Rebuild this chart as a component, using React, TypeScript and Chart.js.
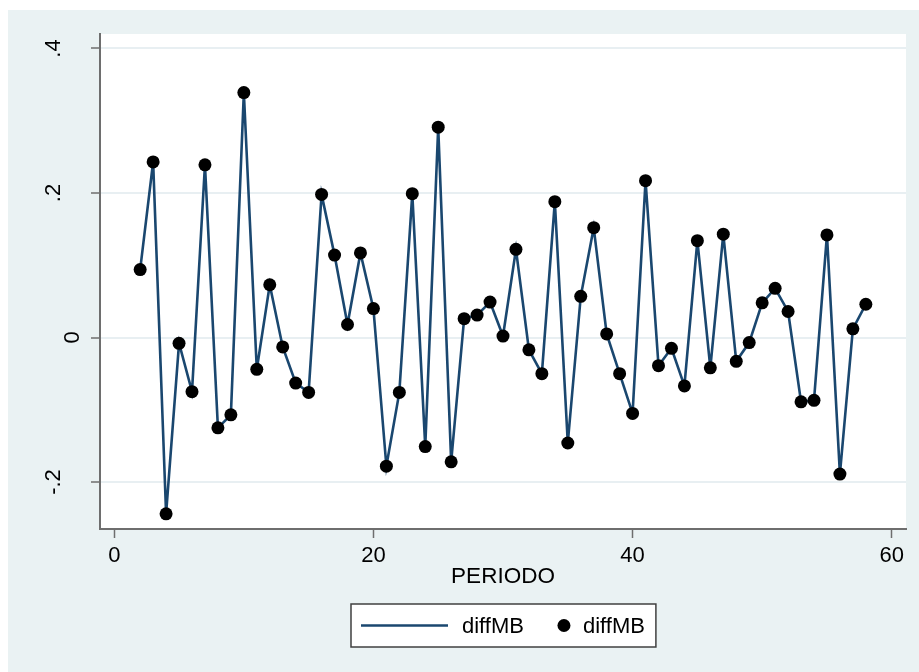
import React, { useEffect, useRef } from "react";
import { Chart, registerables } from "chart.js";

Chart.register(...registerables);

const periods = [
  2, 3, 4, 5, 6, 7, 8, 9, 10, 11, 12, 13, 14, 15, 16, 17, 18, 19, 20,
  21, 22, 23, 24, 25, 26, 27, 28, 29, 30, 31, 32, 33, 34, 35, 36, 37, 38, 39, 40,
  41, 42, 43, 44, 45, 46, 47, 48, 49, 50, 51, 52, 53, 54, 55, 56, 57, 58,
];
const diffMB = [
  0.094, 0.243, -0.244, -0.008, -0.075, 0.239, -0.125, -0.107, 0.339, -0.044,
  0.073, -0.013, -0.063, -0.076, 0.198, 0.114, 0.018, 0.117, 0.040,
  -0.178, -0.076, 0.199, -0.151, 0.291, -0.172, 0.026, 0.031, 0.049, 0.002,
  0.122, -0.017, -0.050, 0.188, -0.146, 0.057, 0.152, 0.005, -0.050, -0.105,
  0.217, -0.039, -0.015, -0.067, 0.134, -0.042, 0.143, -0.033, -0.007, 0.048,
  0.068, 0.036, -0.089, -0.087, 0.142, -0.189, 0.012, 0.046,
];
const seriesLabel = "diffMB";
const xTitle = "PERIODO";
const xRange = [-1.1, 61.1];
const yRange = [-0.265, 0.42];
const xStep = 20;
const yStep = 0.2;

const BG = "#EAF2F3";
const GRID = "#E8EFF2";
const AXIS = "#6E6E6E";
const LINE = "#1A476F";
const FONT = "'Liberation Sans', Arial, Helvetica, sans-serif";

const fmtY = (v: number) => {
  const r = Math.round(v * 10) / 10;
  if (r === 0) return "0";
  const s = String(r);
  return s.replace(/^(-?)0\./, "$1.");
};

const bgPlugin = {
  id: "bgPlugin",
  beforeDraw(chart: any) {
    const { ctx, chartArea: ca, width, height } = chart;
    ctx.save();
    ctx.fillStyle = BG;
    ctx.fillRect(0, 0, width, height);
    ctx.fillStyle = "#FFFFFF";
    ctx.fillRect(ca.left, ca.top, ca.right - ca.left, ca.bottom - ca.top);
    ctx.restore();
  },
};

const yLabelPlugin = {
  id: "yLabelPlugin",
  afterDraw(chart: any) {
    const { ctx } = chart;
    const ys = chart.scales.y;
    ctx.save();
    ctx.font = `22px ${FONT}`;
    ctx.fillStyle = "#000000";
    ctx.textAlign = "center";
    ctx.textBaseline = "middle";
    ys.ticks.forEach((t: any) => {
      const py = ys.getPixelForValue(t.value);
      const label = fmtY(t.value);
      const cx = label === "0" ? 65 : 46;
      ctx.save();
      ctx.translate(cx, py);
      ctx.rotate(-Math.PI / 2);
      ctx.fillText(label, 0, 0);
      ctx.restore();
    });
    ctx.restore();
  },
};

const legendPlugin = {
  id: "boxLegend",
  afterDraw(chart: any) {
    const { ctx, chartArea: ca } = chart;
    const ds = chart.data.datasets;
    ctx.save();
    ctx.font = `22px ${FONT}`;
    const w1 = ctx.measureText(ds[0].label).width;
    const w2 = ctx.measureText(ds[1].label).width;
    const boxW = 10 + 87 + 14 + w1 + 34 + 12 + 13 + w2 + 11;
    const boxH = 43;
    const cx = (ca.left + ca.right) / 2;
    const left = Math.round(cx - boxW / 2);
    const top = ca.bottom + 75;
    ctx.fillStyle = "#FFFFFF";
    ctx.fillRect(left, top, boxW, boxH);
    ctx.strokeStyle = "#404040";
    ctx.lineWidth = 1.5;
    ctx.strokeRect(left, top, boxW, boxH);
    const my = top + 21.5;
    let x = left + 10;
    ctx.strokeStyle = LINE;
    ctx.lineWidth = 2.5;
    ctx.beginPath();
    ctx.moveTo(x, my);
    ctx.lineTo(x + 87, my);
    ctx.stroke();
    x += 87 + 14;
    ctx.fillStyle = "#000000";
    ctx.textAlign = "left";
    ctx.textBaseline = "middle";
    ctx.fillText(ds[0].label, x, my + 1);
    x += w1 + 34;
    ctx.beginPath();
    ctx.arc(x + 6, my, 6.5, 0, Math.PI * 2);
    ctx.fill();
    x += 12 + 13;
    ctx.fillText(ds[1].label, x, my + 1);
    ctx.restore();
  },
};

export default function App() {
  const canvasRef = useRef<HTMLCanvasElement | null>(null);

  useEffect(() => {
    if (!canvasRef.current) return;
    const pts = periods.map((p, i) => ({ x: p, y: diffMB[i] }));
    const chart = new Chart(canvasRef.current, {
      type: "line",
      data: {
        datasets: [
          {
            label: seriesLabel,
            data: pts,
            borderColor: LINE,
            borderWidth: 2.6,
            pointRadius: 0,
            fill: false,
            tension: 0,
            order: 2,
          },
          {
            label: seriesLabel,
            data: pts,
            showLine: false,
            pointRadius: 6.5,
            pointHoverRadius: 6.5,
            pointBackgroundColor: "#000000",
            pointBorderColor: "#000000",
            pointBorderWidth: 0,
            order: 1,
          } as any,
        ],
      },
      options: {
        animation: false,
        responsive: true,
        maintainAspectRatio: false,
        events: [],
        layout: { padding: { left: 0, top: 24, right: 13, bottom: 82 } },
        plugins: {
          legend: { display: false },
          tooltip: { enabled: false },
        },
        scales: {
          x: {
            type: "linear",
            min: xRange[0],
            max: xRange[1],
            ticks: {
              stepSize: xStep,
              includeBounds: false,
              color: "#000000",
              font: { family: FONT, size: 22 },
              padding: 5,
              maxRotation: 0,
              callback: (v: any) => String(v),
            },
            grid: {
              drawOnChartArea: false,
              drawTicks: true,
              tickLength: 9,
              tickColor: AXIS,
              tickWidth: 1.5,
            },
            border: { display: true, color: AXIS, width: 2 },
            title: {
              display: true,
              text: xTitle,
              color: "#000000",
              font: { family: FONT, size: 22.5 },
              padding: { top: 0, bottom: 0 },
            },
            afterFit: (s: any) => {
              s.height = 61;
            },
          },
          y: {
            type: "linear",
            min: yRange[0],
            max: yRange[1],
            ticks: {
              stepSize: yStep,
              includeBounds: false,
              display: false,
            },
            grid: {
              color: GRID,
              lineWidth: 2,
              drawTicks: true,
              tickLength: 9,
              tickColor: AXIS,
              tickWidth: 1.5,
            },
            border: { display: true, color: AXIS, width: 2 },
            afterFit: (s: any) => {
              s.width = 92;
            },
          },
        },
      },
      plugins: [bgPlugin, yLabelPlugin, legendPlugin],
    });
    return () => chart.destroy();
  }, []);

  return (
    <div
      style={{
        position: "absolute",
        left: 8,
        top: 10,
        width: 911,
        height: 662,
      }}
    >
      <canvas ref={canvasRef} />
    </div>
  );
}
